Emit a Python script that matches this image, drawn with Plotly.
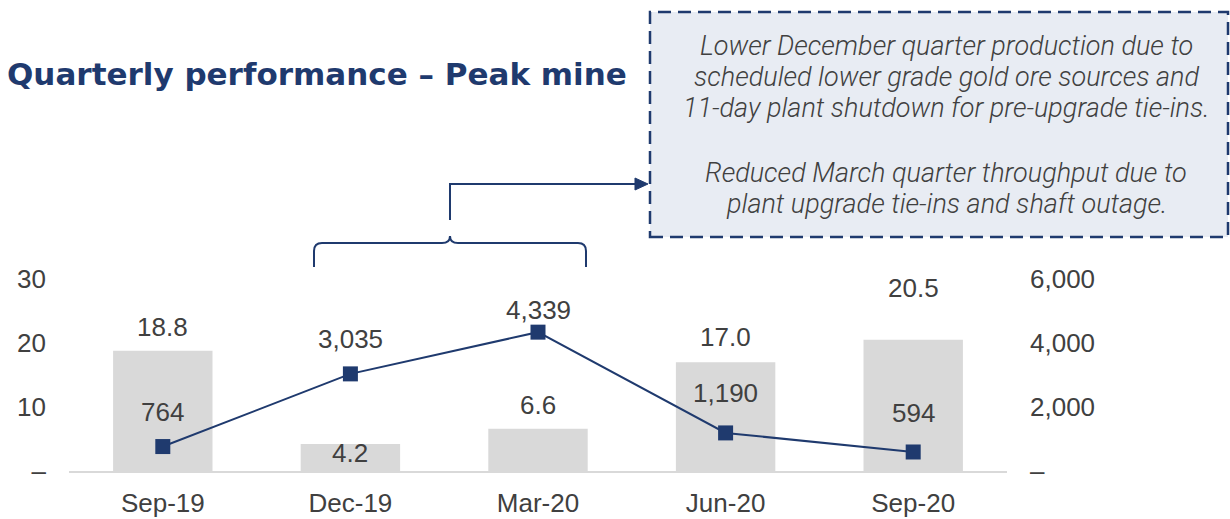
import plotly.graph_objects as go

# ---------------- data ----------------
quarters = ["Sep-19", "Dec-19", "Mar-20", "Jun-20", "Sep-20"]
bar_values = [18.8, 4.2, 6.6, 17.0, 20.5]          # left axis
line_values = [764, 3035, 4339, 1190, 594]          # right axis
left_tick_vals = [0, 10, 20, 30]
left_tick_text = ["–", "10", "20", "30"]
right_tick_vals = [0, 2000, 4000, 6000]
right_tick_text = ["–", "2,000", "4,000", "6,000"]
title_text = "Quarterly performance – Peak mine"
callout_lines = [
    "Lower December quarter production due to",
    "scheduled lower grade gold ore sources and",
    "11-day plant shutdown for pre-upgrade tie-ins.",
    "Reduced March quarter throughput due to",
    "plant upgrade tie-ins and shaft outage.",
]

# ---------------- style ----------------
NAVY = "#1f3a6e"
GREY = "#d9d9d9"
TEXT = "#404040"
BOXFILL = "#e8ecf3"
NUM_FONT = "Liberation Sans, Arial, sans-serif"
bar_label_shift = [24, -9, 24, 25, 52]
line_label_shift = [35, 35, 22, 40, 39]
callout_line_px = [46, 77, 108, 173, 204]

W, H = 1230, 519
L, R, T, B = 69, 223, 279, 48
PW, PH = W - L - R, H - T - B


def px(x):
    return (x - L) / PW


def py(y):
    return (H - B - y) / PH


fig = go.Figure()
fig.add_trace(go.Bar(x=quarters, y=bar_values, marker=dict(color=GREY, line=dict(width=0)),
                     yaxis="y", hoverinfo="skip"))
fig.add_trace(go.Scatter(x=quarters, y=line_values, yaxis="y2", mode="lines+markers",
                         line=dict(color=NAVY, width=2),
                         marker=dict(symbol="square", size=15, color=NAVY),
                         hoverinfo="skip"))

annotations = []
for q, v, s in zip(quarters, bar_values, bar_label_shift):
    annotations.append(dict(x=q, y=v, xref="x", yref="y", text=f"{v:.1f}", showarrow=False,
                            xanchor="center", yanchor="middle", yshift=s,
                            font=dict(family=NUM_FONT, size=26, color=TEXT)))
for q, v, s in zip(quarters, line_values, line_label_shift):
    annotations.append(dict(x=q, y=v, xref="x", yref="y2", text=f"{v:,}", showarrow=False,
                            xanchor="center", yanchor="middle", yshift=s,
                            font=dict(family=NUM_FONT, size=26, color=TEXT)))

annotations.append(dict(x=px(5), y=py(74), xref="paper", yref="paper", text=title_text,
                        showarrow=False, xanchor="left", yanchor="middle",
                        font=dict(family="DejaVu Sans", size=31, color=NAVY, weight="bold")))
for line, ypx in zip(callout_lines, callout_line_px):
    annotations.append(dict(x=px(946), y=py(ypx), xref="paper", yref="paper",
                            text=line, showarrow=False,
                            xanchor="center", yanchor="middle", align="center",
                            font=dict(family="Roboto", size=27, color=TEXT, weight=300,
                                      style="italic")))

shapes = []
# callout box
shapes.append(dict(type="rect", xref="paper", yref="paper", x0=px(650), x1=px(1228),
                   y0=py(237), y1=py(12), fillcolor=BOXFILL,
                   line=dict(color=NAVY, width=2.5, dash="13px,7px"), layer="below"))


def P(x, y):
    return f"{px(x):.5f},{py(y):.5f}"


brace = (f"M{P(314,267)} L{P(314,251)} Q{P(314,243)} {P(322,243)} L{P(442,243)} "
         f"Q{P(450,243)} {P(450,236)} Q{P(450,243)} {P(458,243)} L{P(578,243)} "
         f"Q{P(586,243)} {P(586,251)} L{P(586,267)}")
shapes.append(dict(type="path", xref="paper", yref="paper", path=brace,
                   line=dict(color=NAVY, width=2)))
connector = f"M{P(450,220)} L{P(450,184)} L{P(637,184)}"
shapes.append(dict(type="path", xref="paper", yref="paper", path=connector,
                   line=dict(color=NAVY, width=2)))
arrowhead = f"M{P(635,178)} L{P(648,184)} L{P(635,190)} Z"
shapes.append(dict(type="path", xref="paper", yref="paper", path=arrowhead,
                   fillcolor=NAVY, line=dict(color=NAVY, width=1)))

fig.update_layout(
    width=W, height=H, autosize=False,
    margin=dict(l=L, r=R, t=T, b=B, pad=0, autoexpand=False),
    paper_bgcolor="white", plot_bgcolor="white",
    showlegend=False, bargap=0.47,
    xaxis=dict(showline=True, linecolor=GREY, linewidth=2, showgrid=False, zeroline=False,
               ticks="", tickfont=dict(family=NUM_FONT, size=26, color=TEXT),
               ticklabelstandoff=8, automargin=False),
    yaxis=dict(range=[0, 30], tickvals=left_tick_vals, ticktext=left_tick_text,
               showgrid=False, zeroline=False, showline=False, ticks="",
               tickfont=dict(family=NUM_FONT, size=26, color=TEXT), ticklabelstandoff=22,
               automargin=False),
    yaxis2=dict(range=[0, 6000], tickvals=right_tick_vals, ticktext=right_tick_text,
                overlaying="y", side="right", showgrid=False, zeroline=False, showline=False,
                ticks="", tickfont=dict(family=NUM_FONT, size=26, color=TEXT),
                ticklabelstandoff=22, automargin=False),
    annotations=annotations,
    shapes=shapes,
)

fig.write_html("out.html", config={"displayModeBar": False},
               post_script="document.body.style.margin='0';")
